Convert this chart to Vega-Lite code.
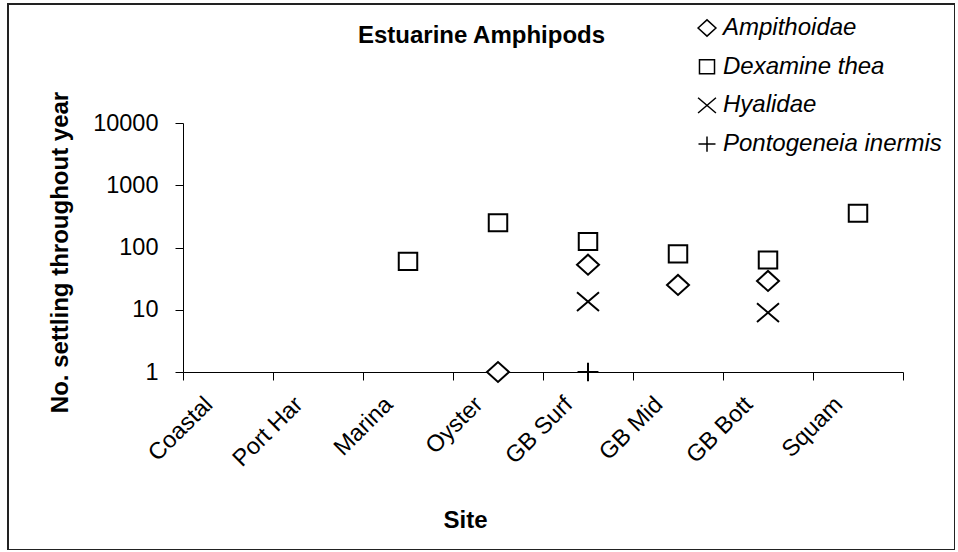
{
  "$schema": "https://vega.github.io/schema/vega-lite/v6.json",
  "width": 947,
  "height": 546,
  "autosize": {"type": "none"},
  "padding": {"left": 8, "top": 4, "right": 0, "bottom": 0},
  "background": "white",
  "title": {
    "text": "Estuarine Amphipods",
    "font": "Liberation Sans",
    "fontSize": 24,
    "fontWeight": "bold",
    "color": "black",
    "anchor": "middle",
    "frame": "group",
    "baseline": "alphabetic",
    "offset": 0,
    "dy": 63
  },
  "config": {
    "view": {"stroke": "#222", "strokeWidth": 2},
    "font": "Liberation Sans",
    "axis": {
      "domainColor": "black",
      "tickColor": "black",
      "labelColor": "black",
      "titleColor": "black",
      "domainWidth": 1,
      "tickWidth": 1,
      "labelFont": "Liberation Sans",
      "titleFont": "Liberation Sans",
      "grid": false,
      "zindex": 0
    }
  },
  "data": {
    "values": [
      {"site": "Marina", "species": "Dexamine thea", "count": 60},
      {"site": "Oyster", "species": "Dexamine thea", "count": 250},
      {"site": "Oyster", "species": "Ampithoidae", "count": 1},
      {"site": "GB Surf", "species": "Dexamine thea", "count": 125},
      {"site": "GB Surf", "species": "Ampithoidae", "count": 53},
      {"site": "GB Surf", "species": "Hyalidae", "count": 13.5},
      {"site": "GB Surf", "species": "Pontogeneia inermis", "count": 1},
      {"site": "GB Mid", "species": "Dexamine thea", "count": 79},
      {"site": "GB Mid", "species": "Ampithoidae", "count": 25},
      {"site": "GB Bott", "species": "Dexamine thea", "count": 63},
      {"site": "GB Bott", "species": "Ampithoidae", "count": 29},
      {"site": "GB Bott", "species": "Hyalidae", "count": 9},
      {"site": "Squam", "species": "Dexamine thea", "count": 355}
    ]
  },
  "mark": {"type": "point", "filled": true, "fill": "white", "stroke": "black", "strokeWidth": 2, "size": 484, "opacity": 1, "fillOpacity": 1},
  "encoding": {
    "x": {
      "field": "site",
      "type": "nominal",
      "sort": null,
      "scale": {
        "type": "band",
        "domain": ["Coastal", "Port Har", "Marina", "Oyster", "GB Surf", "GB Mid", "GB Bott", "Squam"],
        "range": [175, 895],
        "paddingInner": 0,
        "paddingOuter": 0
      },
      "axis": {
        "title": "Site",
        "titleFontSize": 24,
        "titleFontWeight": "bold",
        "titleX": 457,
        "titleY": 155,
        "titleBaseline": "alphabetic",
        "labelAngle": -45,
        "labelAlign": "right",
        "labelBaseline": "top",
        "labelFontSize": 23.5,
        "labelPadding": 12,
        "labelOffset": -28,
        "labelOverlap": false,
        "labelLimit": 0,
        "tickBand": "extent",
        "tickSize": 8,
        "offset": -178
      }
    },
    "y": {
      "field": "count",
      "type": "quantitative",
      "scale": {"type": "log", "domain": [1, 10000], "range": [368, 119], "nice": false},
      "axis": {
        "title": "No. settling throughout year",
        "titleFontSize": 24,
        "titleFontWeight": "bold",
        "titleAngle": -90,
        "titleX": -116,
        "titleY": 248,
        "titleBaseline": "alphabetic",
        "values": [1, 10, 100, 1000, 10000],
        "format": "d",
        "labelFontSize": 23.5,
        "labelPadding": 17,
        "tickSize": 8,
        "offset": -175
      }
    },
    "shape": {
      "field": "species",
      "type": "nominal",
      "scale": {
        "domain": ["Ampithoidae", "Dexamine thea", "Hyalidae", "Pontogeneia inermis"],
        "range": [
          "M-1,0L0,-0.91L1,0L0,0.91Z",
          "M-0.84,-0.78L0.84,-0.78L0.84,0.78L-0.84,0.78Z",
          "M-1,-0.85L1,0.85M-1,0.85L1,-0.85",
          "M-0.95,0L0.95,0M0,-0.85L0,0.85"
        ]
      },
      "legend": {
        "orient": "none",
        "legendX": 687,
        "legendY": 12,
        "title": null,
        "padding": 0,
        "labelFont": "Liberation Sans",
        "labelFontSize": 24,
        "labelFontStyle": "italic",
        "labelColor": "black",
        "labelOffset": 4,
        "labelLimit": 0,
        "symbolSize": 320,
        "rowPadding": 14.7,
        "encode": {
          "symbols": {
            "update": {
              "stroke": {"value": "black"},
              "strokeWidth": {"value": 1.5},
              "fill": {"value": "white"},
              "opacity": {"value": 1}
            }
          }
        }
      }
    }
  }
}
